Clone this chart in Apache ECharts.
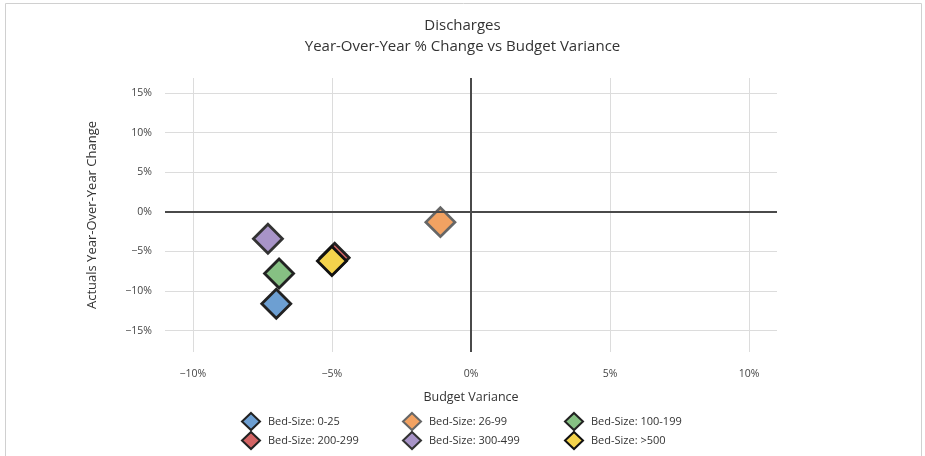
<!DOCTYPE html>
<html>
<head>
<meta charset="utf-8">
<script src="https://cdn.jsdelivr.net/npm/echarts@6/dist/echarts.min.js"></script>
<style>html,body{margin:0;padding:0;background:#fff;}#c{width:925px;height:456px;}</style>
</head>
<body>
<div id="c"></div>
<script>
// ---- data ----
const seriesNames = ['Bed-Size: 0-25','Bed-Size: 26-99','Bed-Size: 100-199','Bed-Size: 200-299','Bed-Size: 300-499','Bed-Size: >500'];
const budgetVariance = [-7.0, -1.1, -6.9, -4.9, -7.3, -5.0];
const yoyChange = [-11.6, -1.3, -7.8, -5.8, -3.4, -6.2];
const xTicks = [-10, -5, 0, 5, 10];
const yTicks = [-15, -10, -5, 0, 5, 10, 15];
const colors = ['#6d9fd2','#f2a262','#86c083','#d36464','#a894c8','#f4d34c'];
const borderColors = ['#222','#666','#222','#222','#333','#111'];

const fmt = v => (v < 0 ? '\u2212' + Math.abs(v) : v) + '%';
const font = '"Open Sans", "Noto Sans", sans-serif';

const series = seriesNames.map((n, i) => ({
  name: n,
  type: 'scatter',
  symbol: 'diamond',
  symbolSize: 29,
  z: i === 3 ? 2 : 3,
  itemStyle: { color: colors[i], borderColor: borderColors[i], borderWidth: 2.8, opacity: 1 },
  data: [[budgetVariance[i], yoyChange[i]]]
}));
series.push({
  type: 'scatter', name: 'zero', data: [], silent: true, z: 1,
  markLine: {
    silent: true, symbol: 'none', label: { show: false },
    lineStyle: { color: '#4a4a4a', width: 2, type: 'solid' },
    data: [{ xAxis: 0 }, { yAxis: 0 }]
  }
});

const legendLefts = [241, 402, 564, 241, 402, 564];
const legendTops = [412, 412, 412, 431, 431, 431];
const legends = seriesNames.map((n, i) => ({
  data: [n], left: legendLefts[i], top: legendTops[i],
  itemWidth: 18, itemHeight: 17, icon: 'diamond', padding: 0, itemGap: 0,
  textStyle: { fontFamily: font, fontSize: 11, color: '#333', padding: [0, 0, 0, 3] }
}));

const chart = echarts.init(document.getElementById('c'));
chart.setOption({
  animation: false,
  color: colors,
  title: {
    text: 'Discharges\nYear-Over-Year % Change vs Budget Variance',
    left: 'center', top: 10,
    textStyle: { fontFamily: font, fontSize: 15, fontWeight: 'normal', color: '#333', lineHeight: 21 }
  },
  graphic: [{
    type: 'rect', shape: { x: 5.5, y: 3.5, width: 916, height: 460 },
    style: { fill: 'none', stroke: '#d0d0d0', lineWidth: 1 }, silent: true
  }],
  grid: { left: 165, right: 148, top: 78, bottom: 104 },
  xAxis: {
    type: 'value', min: -11, max: 11,
    name: 'Budget Variance', nameLocation: 'middle', nameGap: 39,
    nameTextStyle: { fontFamily: font, fontSize: 12.5, color: '#333' },
    axisLine: { show: false }, axisTick: { show: false, customValues: xTicks },
    axisLabel: { customValues: xTicks, formatter: fmt, margin: 17, fontFamily: font, fontSize: 10.5, color: '#444' },
    splitLine: { show: true, lineStyle: { color: '#dcdcdc', width: 1 } }
  },
  yAxis: {
    type: 'value', min: -17.7, max: 16.9,
    name: 'Actuals Year-Over-Year Change', nameLocation: 'middle', nameGap: 66, nameRotate: 90,
    nameTextStyle: { fontFamily: font, fontSize: 13, color: '#333' },
    axisLine: { show: false }, axisTick: { show: false, customValues: yTicks },
    axisLabel: { customValues: yTicks, formatter: fmt, margin: 13, fontFamily: font, fontSize: 10.5, color: '#444' },
    splitLine: { show: true, lineStyle: { color: '#dcdcdc', width: 1 } }
  },
  legend: legends,
  series: series
});
</script>
</body>
</html>
